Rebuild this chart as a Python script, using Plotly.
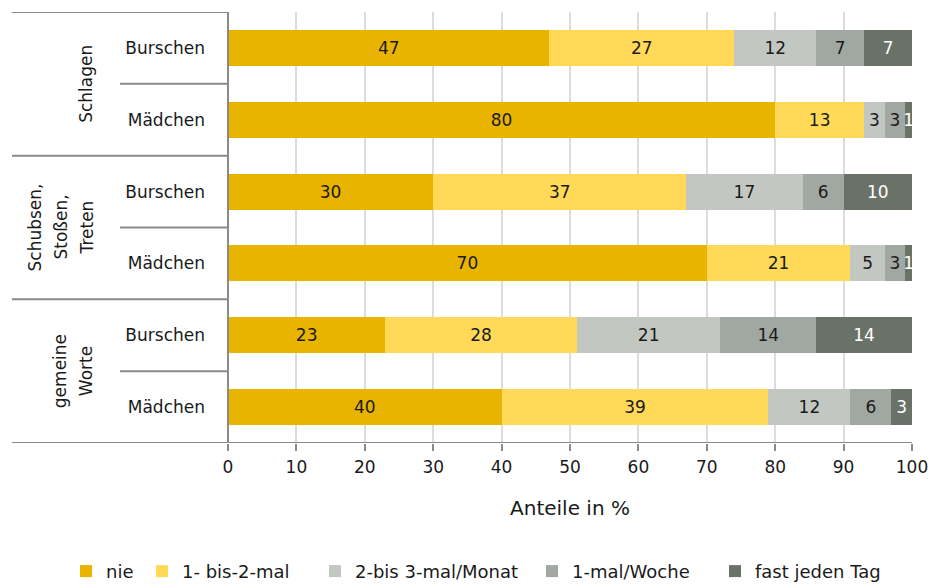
import plotly.graph_objects as go

group_lines = [["Schlagen"], ["Schubsen,", "Stoßen,", "Treten"], ["gemeine", "Worte"]]
subgroups = ["Burschen", "Mädchen"]
series_names = ["nie", "1- bis-2-mal", "2-bis 3-mal/Monat", "1-mal/Woche", "fast jeden Tag"]
colors = ["#E8B400", "#FFD957", "#C2C7C1", "#A1A8A1", "#6A7268"]
text_colors = ["#1a1a1a", "#1a1a1a", "#1a1a1a", "#1a1a1a", "#ffffff"]

nie = [47, 80, 30, 70, 23, 40]
bis2 = [27, 13, 37, 21, 28, 39]
bis3 = [12, 3, 17, 5, 21, 12]
woche = [7, 3, 6, 3, 14, 6]
taeglich = [7, 1, 10, 1, 14, 3]
values = [nie, bis2, bis3, woche, taeglich]

row_labels = [s for g in group_lines for s in subgroups]
rows = list(range(len(row_labels)))
x_ticks = list(range(0, 101, 10))

FONT = "DejaVu Sans"
FS = 17
W, H = 930, 585
L, R, T, B = 228, 18, 12, 142
PW = W - L - R

# legend entry positions (px from left edge of figure)
legend_px = [86, 162, 335, 552, 735]

fig = go.Figure()
legend_layouts = {}
for k, (name, vals, col, tcol) in enumerate(zip(series_names, values, colors, text_colors)):
    lg = "legend" if k == 0 else f"legend{k + 1}"
    fig.add_trace(go.Bar(
        y=rows, x=vals, name=name, orientation="h", legend=lg,
        marker=dict(color=col, line=dict(width=0)),
        text=[str(v) for v in vals], textposition="inside",
        insidetextanchor="middle", constraintext="none",
        textfont=dict(family=FONT, size=FS, color=tcol),
        width=0.5, hoverinfo="skip",
    ))
    legend_layouts[lg] = dict(
        orientation="h", x=(legend_px[k] - 20 - L) / PW, xanchor="left",
        y=-0.255, yanchor="top", bgcolor="rgba(0,0,0,0)",
        font=dict(family=FONT, size=18, color="#1a1a1a"), itemwidth=30,
    )

line_col = "#8a8a8a"
left_long = -216 / PW
left_short = -108 / PW
shapes = []
for i in range(0, len(rows) + 1, 2):
    yb = i - 0.5
    x1 = 1 if i == len(rows) else 0
    shapes.append(dict(type="line", xref="paper", yref="y", x0=left_long, x1=x1,
                       y0=yb, y1=yb, line=dict(color=line_col, width=2)))
for i in range(1, len(rows), 2):
    shapes.append(dict(type="line", xref="paper", yref="y", x0=left_short, x1=0,
                       y0=i - 0.5, y1=i - 0.5, line=dict(color=line_col, width=2)))
shapes.append(dict(type="line", xref="paper", yref="y", x0=0, x1=0,
                   y0=-0.5, y1=len(rows) - 0.5 + 0.1, line=dict(color=line_col, width=2)))

annotations = []
LINE_GAP = 26
for gi, lines in enumerate(group_lines):
    n = len(lines)
    for li, txt in enumerate(lines):
        xr = -130 - (n - 1 - li) * LINE_GAP
        annotations.append(dict(
            text=txt, textangle=-90, xref="paper", yref="y",
            x=xr / PW, xanchor="right", y=gi * 2 + 0.5, yanchor="middle",
            showarrow=False, align="center",
            font=dict(family=FONT, size=FS, color="#1a1a1a"),
        ))

fig.update_layout(
    barmode="stack",
    width=W, height=H,
    margin=dict(l=L, r=R, t=T, b=B, autoexpand=False),
    paper_bgcolor="white", plot_bgcolor="white",
    font=dict(family=FONT, size=FS, color="#1a1a1a"),
    shapes=shapes, annotations=annotations,
    showlegend=True,
    xaxis=dict(range=[0, 100], tickvals=x_ticks, showgrid=True, gridcolor="#dcdcdc",
               gridwidth=1.5, showline=False, zeroline=False, ticks="outside", ticklen=7,
               tickcolor=line_col, tickwidth=1.5, ticklabelstandoff=2, automargin=False,
               title=dict(text="Anteile in %", standoff=24),
               tickfont=dict(family=FONT, size=FS, color="#1a1a1a")),
    yaxis=dict(tickvals=rows, ticktext=row_labels, range=[len(rows) - 0.5, -0.5],
               showgrid=False, zeroline=False, showline=False, ticks="",
               ticklabelstandoff=22, automargin=False,
               tickfont=dict(family=FONT, size=FS, color="#1a1a1a")),
    **legend_layouts,
)

fig.write_html("out.html", config={"displayModeBar": False},
               post_script="document.body.style.margin='0';document.body.style.overflow='hidden';")
